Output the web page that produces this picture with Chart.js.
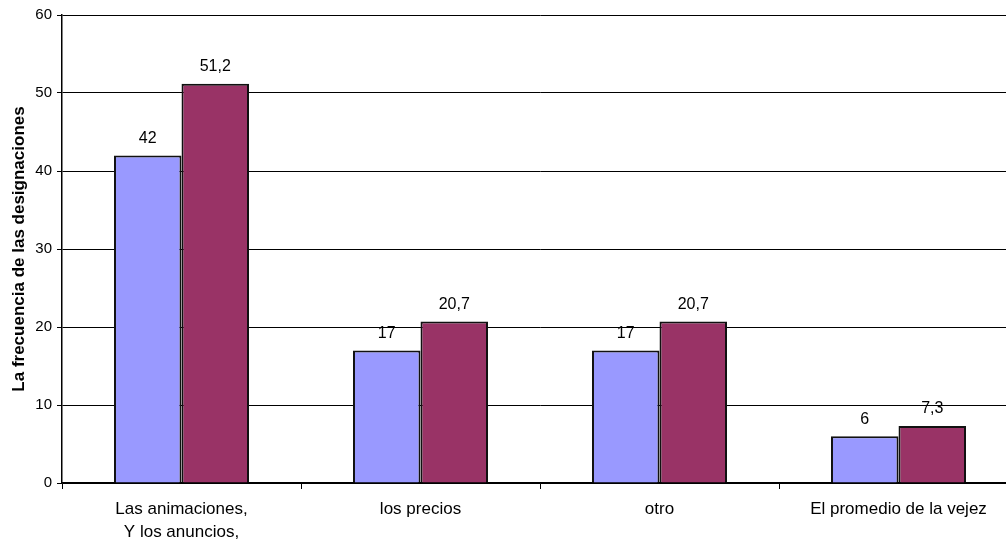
<!DOCTYPE html>
<html>
<head>
<meta charset="utf-8">
<script src="https://cdn.jsdelivr.net/npm/chart.js@4/dist/chart.umd.min.js"></script>
<style>
  html, body { margin: 0; padding: 0; background: #fff; overflow: hidden; }
  #wrap { width: 1020px; height: 540px; }
</style>
</head>
<body>
<div id="wrap"><canvas id="c" width="1020" height="540"></canvas></div>
<script>
const categories = [["Las animaciones,", "Y los anuncios,"], "los precios", "otro", "El promedio de la vejez"]
const serieA = [42, 17, 17, 6]
const serieB = [51.2, 20.7, 20.7, 7.3]
const yMin = 0, yMax = 60, yStep = 10
const yTitle = "La frecuencia de las designaciones"

const FONT = "'Liberation Sans', Arial, sans-serif"

// numbers above the bars, with a decimal comma
const valueLabels = {
  id: "valueLabels",
  afterDatasetsDraw(chart) {
    const { ctx } = chart
    ctx.save()
    ctx.font = "16px " + FONT
    ctx.fillStyle = "#000"
    ctx.textAlign = "center"
    ctx.textBaseline = "bottom"
    chart.data.datasets.forEach((ds, i) => {
      chart.getDatasetMeta(i).data.forEach((bar, j) => {
        ctx.fillText(String(ds.data[j]).replace(".", ","), bar.x, bar.y - 9)
      })
    })
    ctx.restore()
  }
}

new Chart(document.getElementById("c"), {
  type: "bar",
  data: {
    labels: categories,
    datasets: [
      { data: serieA, backgroundColor: "#9999FF", borderColor: "#111", borderWidth: 2 },
      { data: serieB, backgroundColor: "#993366", borderColor: "#111", borderWidth: 2 }
    ]
  },
  options: {
    responsive: false, animation: false, devicePixelRatio: 1,
    categoryPercentage: 0.565, barPercentage: 1,
    layout: { padding: { top: 15, right: 2, left: 0, bottom: 0 } },
    plugins: { legend: { display: false }, tooltip: { enabled: false } },
    scales: {
      x: {
        grid: { offset: true, drawOnChartArea: false, color: "#000", tickLength: 6 },
        border: { color: "#000", width: 1.5 },
        ticks: { color: "#000", font: { family: FONT, size: 17, lineHeight: 1.4 }, padding: 8, maxRotation: 0, autoSkip: false },
        afterFit: s => { s.height = 57 }
      },
      y: {
        min: yMin, max: yMax,
        grid: { color: "#000", tickLength: 5 },
        border: { color: "#000", width: 1.5 },
        ticks: { stepSize: yStep, color: "#000", font: { family: FONT, size: 15 }, padding: 5 },
        title: { display: true, text: yTitle, color: "#000", font: { family: FONT, size: 17, weight: "bold" }, padding: { top: 9, bottom: 0 } },
        afterFit: s => { s.width = 62 }
      }
    }
  },
  plugins: [valueLabels]
})
</script>
</body>
</html>
